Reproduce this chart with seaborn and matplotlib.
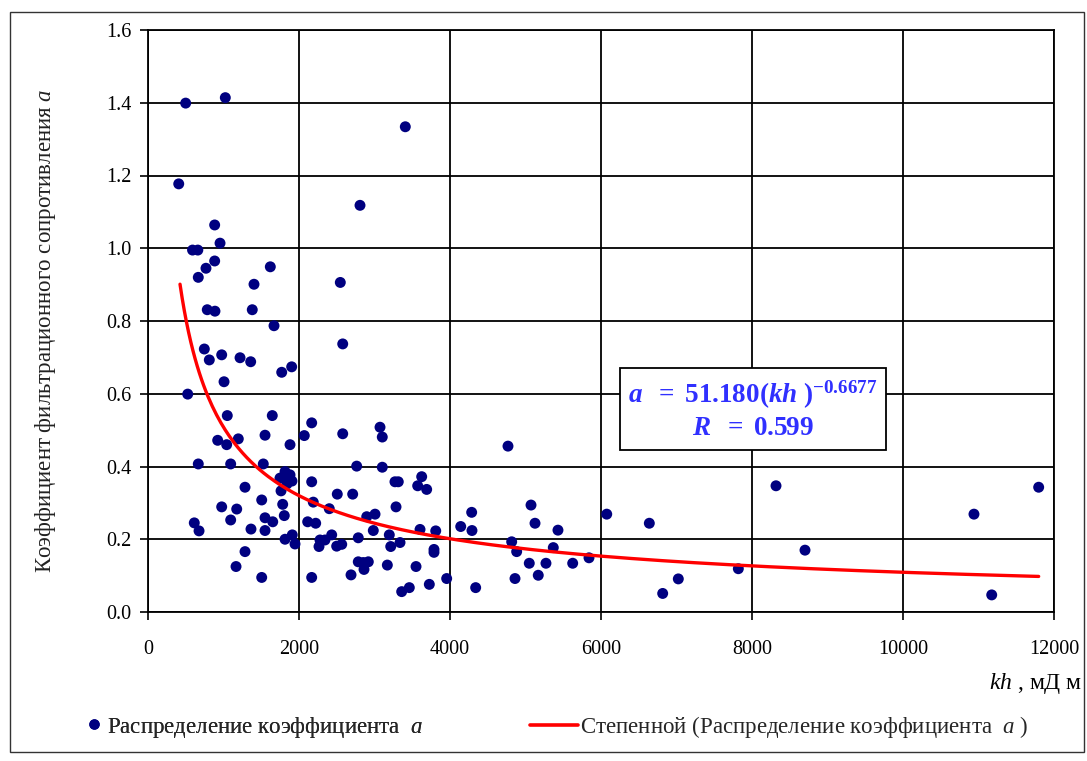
import numpy as np
import pandas as pd
import matplotlib
matplotlib.use("Agg")
import matplotlib.pyplot as plt
import seaborn as sns
from matplotlib.patches import Rectangle
from matplotlib.lines import Line2D

# ---- data ----
kh = [407, 499, 1024, 3408, 2808, 883, 954, 590, 660, 883, 768, 666, 1620, 1404, 2547,
      785, 887, 1381, 1669, 2579, 746, 812, 976, 1219, 1360, 1771, 1903, 1007, 526, 1050,
      1646, 2168, 2070, 2579, 3073, 3103, 923, 1042, 1196, 1550, 1881, 666, 1095, 1527, 2764,
      3103, 1815, 1881, 1792, 1907, 1841, 1748, 2168, 1285, 1762, 2507, 2711, 3271, 3315, 3625,
      3572, 3691, 1506, 1784, 2189, 976, 1175, 2401, 3285, 1095, 1550, 1652, 1805, 2115, 2221,
      2897, 3007, 613, 676, 1364, 1550, 2984, 3603, 3811, 4142, 1815, 1911, 1947, 2278, 2265,
      2344, 2433, 2499, 2566, 2785, 3196, 3215, 3338, 3788, 3788, 1285, 1166, 1506, 2168, 2689,
      2785, 2852, 2918, 2861, 3170, 3550, 3360, 3461, 3726, 3956,
      5073, 4287, 5126, 4291, 5430, 6076, 6640, 4817, 4883, 5368, 5050, 5271, 5625, 5841,
      5169, 4861, 4340, 7819, 7024, 6817, 4768, 8318, 8702, 10940, 11797, 11175]
a_coef = [1.177, 1.399, 1.414, 1.334, 1.118, 1.064, 1.014, 0.995, 0.995, 0.965, 0.945, 0.920,
          0.949, 0.901, 0.906, 0.831, 0.827, 0.831, 0.787, 0.737, 0.723, 0.693, 0.707, 0.699,
          0.688, 0.659, 0.674, 0.633, 0.599, 0.540, 0.540, 0.520, 0.485, 0.490, 0.508, 0.481,
          0.472, 0.460, 0.476, 0.486, 0.460, 0.407, 0.407, 0.407, 0.401, 0.398, 0.386, 0.377,
          0.371, 0.360, 0.352, 0.368, 0.358, 0.343, 0.333, 0.324, 0.324, 0.358, 0.358, 0.372,
          0.347, 0.337, 0.308, 0.296, 0.302, 0.289, 0.283, 0.284, 0.289, 0.253, 0.259, 0.248,
          0.265, 0.248, 0.244, 0.262, 0.269, 0.245, 0.223, 0.228, 0.224, 0.224, 0.227, 0.223,
          0.235, 0.200, 0.212, 0.187, 0.198, 0.180, 0.198, 0.212, 0.181, 0.186, 0.204, 0.212,
          0.180, 0.191, 0.172, 0.164, 0.166, 0.125, 0.095, 0.095, 0.102, 0.138, 0.136, 0.138,
          0.117, 0.129, 0.125, 0.056, 0.067, 0.076, 0.092,
          0.294, 0.274, 0.244, 0.224, 0.225, 0.269, 0.244, 0.193, 0.166, 0.177, 0.134, 0.134,
          0.134, 0.149, 0.101, 0.092, 0.067, 0.119, 0.091, 0.051, 0.456, 0.347, 0.170, 0.269,
          0.343, 0.047]

# power trendline reported on the chart: a = 51.180 * kh^-0.6677
FIT_COEF = 51.180
FIT_EXP = -0.6677
FIT_R = 0.599
FIT_START = 424

x_ticks = [0, 2000, 4000, 6000, 8000, 10000, 12000]
y_ticks = [0.0, 0.2, 0.4, 0.6, 0.8, 1.0, 1.2, 1.4, 1.6]
x_label = r"$\mathit{kh}$ , мД м"
y_label = r"Коэффициент фильтрационного сопротивления $\mathit{a}$"
legend_points = r"Распределение коэффициента  $\mathit{a}$"
legend_fit = r"Степенной (Распределение коэффициента  $\mathit{a}$ )"

# ---- style ----
sns.set_theme(style="whitegrid")
plt.rcParams["font.family"] = ["Liberation Serif", "DejaVu Serif"]
plt.rcParams["mathtext.fontset"] = "custom"
plt.rcParams["mathtext.rm"] = "Liberation Serif"
plt.rcParams["mathtext.it"] = "Liberation Serif:italic"
plt.rcParams["mathtext.bf"] = "Liberation Serif:bold"
plt.rcParams["mathtext.bfit"] = "Liberation Serif:italic:bold"

NAVY = "#000080"
RED = "#FF0000"
TXT_BLUE = "#3030FF"

fig = plt.figure(figsize=(10.87, 7.61), dpi=100)
fig.patch.set_facecolor("white")
ax = fig.add_axes([148 / 1087, 1 - 612 / 761, 906 / 1087, 582 / 761])
ax.set_facecolor("white")

df = pd.DataFrame({"kh": kh, "a": a_coef})
sns.scatterplot(data=df, x="kh", y="a", ax=ax, color=NAVY, s=62,
                edgecolor="none", linewidth=0, zorder=3, legend=False)

fit_x = np.linspace(FIT_START, max(kh), 400)
fit_y = FIT_COEF * fit_x ** FIT_EXP
sns.lineplot(x=fit_x, y=fit_y, ax=ax, color=RED, linewidth=2.4, zorder=4,
             legend=False, sort=False)

ax.set_xlim(x_ticks[0], x_ticks[-1])
ax.set_ylim(y_ticks[0], y_ticks[-1])
ax.set_xticks(x_ticks)
ax.set_xticklabels([f"{v:d}" for v in x_ticks])
ax.set_yticks(y_ticks)
ax.set_yticklabels([f"{v:.1f}" for v in y_ticks])
ax.tick_params(axis="both", which="both", direction="out", length=6, width=1.2,
               color="black", labelsize=14.5, labelcolor="black",
               bottom=True, left=True)
ax.tick_params(axis="x", pad=14)
ax.tick_params(axis="y", pad=6)

ax.grid(True, color="black", linewidth=1.3)
for sp in ax.spines.values():
    sp.set_color("black")
    sp.set_linewidth(1.3)

ax.set_xlabel(x_label, fontsize=17, color="black", ha="right", va="center")
ax.xaxis.set_label_coords((1082 - 148) / 906, (612 - 684) / 582)
ax.set_ylabel(y_label, fontsize=16.5, color="#222222", va="center")
ax.yaxis.set_label_coords((46 - 148) / 906, (612 - 331) / 582)

# annotation box with the trend equation
ann = (r"$\mathbfit{a}\ \ \mathbf{=\ 51.180(}\mathbfit{kh}\ \mathbf{)}^{\mathbf{-0.6677}}$" + "\n"
       + r"$\mathbfit{R}\ \ \mathbf{=\ " + f"{FIT_R:.3f}" + r"}$")
ax.text((753 - 148) / 906, (612 - 410) / 582, ann, transform=ax.transAxes,
        ha="center", va="center", multialignment="center", fontsize=19.5,
        color=TXT_BLUE, linespacing=1.3, zorder=6,
        bbox=dict(boxstyle="square,pad=0.3", facecolor="white",
                  edgecolor="black", linewidth=1.3))

# legends
h1 = Line2D([], [], marker="o", linestyle="", color=NAVY, markersize=6.5)
h2 = Line2D([], [], color=RED, linewidth=2.6)
leg1 = fig.legend([h1], [legend_points], loc="center left",
                  bbox_to_anchor=(84 / 1087, 1 - 727 / 761), frameon=False,
                  fontsize=16.5, handlelength=0.9, handletextpad=0.1,
                  borderpad=0, borderaxespad=0)
leg2 = fig.legend([h2], [legend_fit], loc="center left",
                  bbox_to_anchor=(530 / 1087, 1 - 727 / 761), frameon=False,
                  fontsize=16.5, handlelength=2.1, handletextpad=0.1,
                  borderpad=0, borderaxespad=0)
fig.add_artist(leg1)

# outer chart frame
fig.add_artist(Rectangle((10 / 1087, 1 - 752 / 761), 1074 / 1087, 740 / 761,
                         transform=fig.transFigure, fill=False,
                         edgecolor="#333333", linewidth=1.0))

fig.savefig("out.png", dpi=100, facecolor="white")
